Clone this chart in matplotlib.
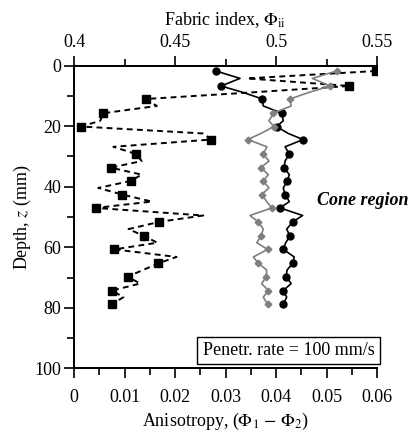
import matplotlib
matplotlib.use("Agg")
import matplotlib.pyplot as plt
from matplotlib.ticker import MultipleLocator

plt.rcParams['font.family'] = ['Liberation Serif', 'DejaVu Serif']
plt.rcParams['mathtext.fontset'] = 'stix'

# depth of every data point (mm); markers on every second point
depth = [1.75, 4.2, 6.7, 8.9, 11.0, 13.3, 15.7, 18.2, 20.1, 22.4, 24.4, 26.8,
         29.2, 31.5, 33.7, 36.0, 38.1, 40.4, 42.6, 44.9, 47.0, 49.5, 51.6, 54.0,
         56.3, 58.5, 60.7, 63.2, 65.3, 67.5, 69.7, 72.0, 74.3, 76.5, 78.8]

# anisotropy (bottom axis), black squares, dashed
anisotropy = [0.0598, 0.0343, 0.0545, 0.0345, 0.0142, 0.0164, 0.0058, 0.0052,
              0.0014, 0.0256, 0.0272, 0.0078, 0.0123, 0.0134, 0.0073, 0.0134,
              0.0112, 0.0048, 0.0096, 0.0154, 0.0043, 0.0256, 0.0169, 0.0108,
              0.0139, 0.0165, 0.0080, 0.0203, 0.0167, 0.0137, 0.0106, 0.0131,
              0.0075, 0.0098, 0.0075]

# fabric index (top axis), black circles
fabric_black = [0.4703, 0.4822, 0.4728, 0.4840, 0.4932, 0.4937, 0.5028, 0.5036,
                0.5003, 0.5061, 0.5134, 0.5045, 0.5066, 0.5045, 0.5040, 0.5066,
                0.5056, 0.5036, 0.5045, 0.5066, 0.5020, 0.5132, 0.5083, 0.5053,
                0.5069, 0.5048, 0.5036, 0.5090, 0.5083, 0.5055, 0.5050, 0.5075,
                0.5036, 0.5053, 0.5036]

# fabric index (top axis), grey diamonds
fabric_grey = [0.5300, 0.5180, 0.5267, 0.5160, 0.5069, 0.5075, 0.4987, 0.4965,
               0.4990, 0.4925, 0.4860, 0.4955, 0.4937, 0.4965, 0.4925, 0.4962,
               0.4937, 0.4965, 0.4929, 0.4954, 0.4979, 0.4871, 0.4912, 0.4937,
               0.4925, 0.4905, 0.4958, 0.4888, 0.4912, 0.4954, 0.4952, 0.4929,
               0.4962, 0.4937, 0.4958]

bottom_ticks = [0, 0.01, 0.02, 0.03, 0.04, 0.05, 0.06]
bottom_labels = ['0', '0.01', '0.02', '0.03', '0.04', '0.05', '0.06']
top_ticks = [0.40, 0.45, 0.50, 0.55]
top_labels = ['0.4', '0.45', '0.5', '0.55']
depth_ticks = [0, 20, 40, 60, 80, 100]

fig = plt.figure(figsize=(4.09, 4.32), dpi=100)
ax = fig.add_axes([74/409, 1-368.3/432, 303/409, (368.3-65.7)/432])
ax2 = ax.twiny()

fs = 13
ax.plot(anisotropy, depth, color='black', lw=1.4, linestyle=(0, (3.0, 2.2)),
        marker='s', markersize=5.6, markevery=2, zorder=3)
ax2.plot(fabric_black, depth, color='black', lw=1.2, marker='o',
         markersize=5.0, markevery=2, zorder=4)
ax2.plot(fabric_grey, depth, color='#7f7f7f', lw=1.2, marker='D',
         markersize=3.4, markevery=2, zorder=4)

ax.set_xlim(0, 0.06)
ax.set_ylim(100, 0)
ax2.set_xlim(0.4, 0.55)

ax.set_xticks(bottom_ticks)
ax.set_xticklabels(bottom_labels)
ax.xaxis.set_minor_locator(MultipleLocator(0.005))
ax.set_yticks(depth_ticks)
ax.yaxis.set_minor_locator(MultipleLocator(10))
ax2.set_xticks(top_ticks)
ax2.set_xticklabels(top_labels)
ax2.xaxis.set_minor_locator(MultipleLocator(0.025))

for a in (ax, ax2):
    a.spines['right'].set_visible(False)
    for s in a.spines.values():
        s.set_linewidth(1.3)
    a.tick_params(which='major', direction='out', length=7, width=1.2,
                  labelsize=fs, pad=2)
    a.tick_params(which='minor', direction='out', length=5, width=1.2)
ax.tick_params(axis='x', which='both', top=False)
ax.tick_params(axis='x', which='major', pad=8)
ax2.tick_params(axis='x', which='both', bottom=False, top=True)
ax2.tick_params(axis='x', which='major', pad=3.5)

ax.set_xlabel(r'Anisotropy, ($\Phi_1$ $-$ $\Phi_2$)', fontsize=fs, labelpad=3.5)
ax.set_ylabel(r'Depth, $z$ (mm)', fontsize=fs, labelpad=1.5)
ax2.set_xlabel(r'Fabric index, $\Phi_{\rm ii}$', fontsize=fs, labelpad=6.5)

ax.text(0.0481, 44.4, 'Cone region', fontsize=fs, style='italic',
        weight='bold', ha='left', va='center', clip_on=False)
ax.text(0.0425, 94.1, 'Penetr. rate = 100 mm/s', fontsize=fs, ha='center',
        va='center', clip_on=False,
        bbox=dict(boxstyle='square,pad=0.3', fc='white', ec='black', lw=1.0),
        zorder=5)

fig.savefig('out.png', dpi=100)
